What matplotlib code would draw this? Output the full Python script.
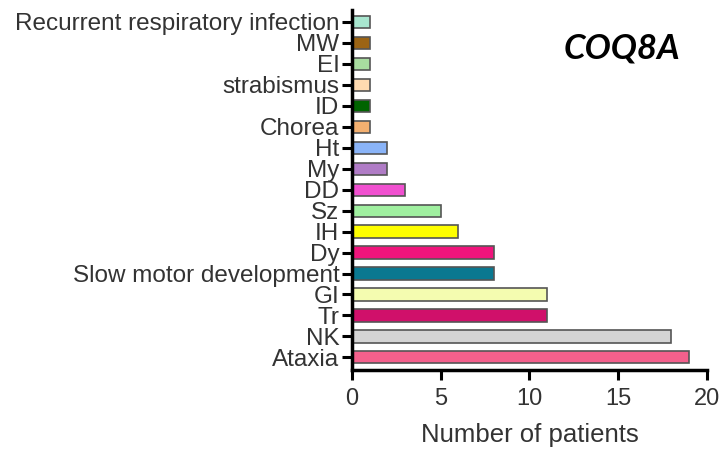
import numpy as np
import matplotlib.pyplot as plt

# Données (de bas en haut)
symptomes = ["Ataxia", "NK", "Tr", "GI", "Slow motor development", "Dy", "IH", "Sz",
             "DD", "My", "Ht", "Chorea", "ID", "strabismus", "EI", "MW",
             "Recurrent respiratory infection"]
n_patients = [19, 18, 11, 11, 8, 8, 6, 5, 3, 2, 2, 1, 1, 1, 1, 1, 1]
couleurs = ["#f4608c", "#d4d4d4", "#d0106a", "#f4fcb0", "#0a7890", "#f0147c",
            "#ffff00", "#a0f0a0", "#f050d0", "#b07cc6", "#8ab4f8", "#f4b070",
            "#006400", "#ffdab0", "#a8dca0", "#9c6414", "#a8e6cf"]
x_ticks = [0, 5, 10, 15, 20]

plt.rcParams['font.family'] = ['Liberation Sans', 'DejaVu Sans']

fig = plt.figure(figsize=(7.22, 4.49), dpi=100)
ax = fig.add_axes([0.4875, 0.176, 0.4917, 0.802])

y = np.arange(len(symptomes))
ax.barh(y, n_patients, height=0.58, color=couleurs, edgecolor="#555555", linewidth=1.2)

ax.set_xlim(0, 20)
ax.set_ylim(-0.6, len(symptomes) - 1 + 0.57)
ax.set_yticks(y)
ax.set_yticklabels(symptomes, fontsize=17.5, color="#333333")
ax.set_xticks(x_ticks)
ax.set_xticklabels([str(v) for v in x_ticks], fontsize=17, color="#333333")
ax.tick_params(axis='both', direction='out', length=7, width=2.2, pad=2)
ax.tick_params(axis='x', pad=6)

for s in ['top', 'right']:
    ax.spines[s].set_visible(False)
for s in ['left', 'bottom']:
    ax.spines[s].set_linewidth(2.5)

ax.set_xlabel("Number of patients", fontsize=18.5, color="#333333", labelpad=9)

fig.text(0.78, 0.893, "COQ8A", fontsize=25, fontweight='bold', fontstyle='italic',
         family=['Lato', 'DejaVu Sans'], ha='left', va='center')

plt.savefig("out.png", dpi=100)
plt.close()
